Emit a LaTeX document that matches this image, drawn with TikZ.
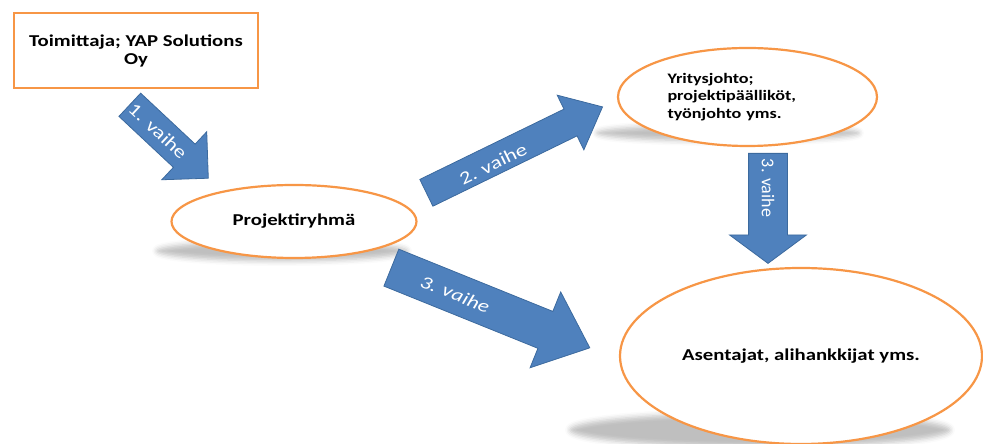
\documentclass[tikz,border=0pt]{standalone}
\usepackage{fontspec}
\setmainfont{Carlito}[FakeStretch=1.25]
\newfontfamily\uprightfont{Carlito}
\usetikzlibrary{shapes.geometric,shapes.arrows,shadows.blur}
\definecolor{shapeorange}{HTML}{F79646}
\definecolor{arrowblue}{HTML}{4F81BD}
\definecolor{arrowline}{HTML}{3C6A9E}

\begin{document}
\begin{tikzpicture}[x=1pt, y=1pt,
  box/.style={draw=shapeorange, line width=2.2pt, fill=white, align=center,
              font=\fontsize{16.6}{18}\selectfont\bfseries},
  oval/.style={box, ellipse, inner sep=0pt},
  shade/.style={ellipse, inner sep=0pt, blur shadow={shadow xshift=0pt, shadow yshift=0pt,
                shadow opacity=25, shadow blur radius=5pt}},
  barrow/.style={single arrow, anchor=tail, draw=arrowline, line width=0.8pt, fill=arrowblue,
                 inner sep=0pt, single arrow head indent=0pt},
  lbl/.style={text=white, inner sep=0pt, font=\fontsize{18}{20}\selectfont}]
\useasboundingbox (0,0) rectangle (983,444);
% shadows below the ovals
\node[shade, minimum width=250, minimum height=20] (sh1) at (282,193) {};
\node[shade, minimum width=262, minimum height=16] (sh2) at (728,311) {};
\node[shade, minimum width=380, minimum height=34] (sh3) at (760,14) {};
% parties
\node[box, minimum width=244, minimum height=75] (sup) at (136,393.5) {Toimittaja; YAP Solutions\\ Oy};
\node[oval, minimum width=245, minimum height=73] (team) at (294,222.5) {Projektiryhmä};
\node[oval, minimum width=259, minimum height=98, text width=160, align=left,
      font=\fontsize{14.5}{17.5}\selectfont\bfseries] (mgmt) at (747.5,347) {Yritysjohto;\\ projektipäälliköt,\\ työnjohto yms.};
\node[oval, minimum width=362, minimum height=176] (fitters) at (801,88) {Asentajat, alihankkijat yms.};
% phases
\node[barrow, rotate=-43.1, minimum height=107.5, inner ysep=15.5, single arrow head extend=17,
      single arrow tip angle=90] (ph1) at (129.5,339.5) {};
\node[barrow, rotate=26, minimum height=196, inner ysep=14.5, single arrow head extend=15.5,
      single arrow tip angle=81] (ph2) at (426,251) {};
\node[barrow, rotate=-90, minimum height=110, inner ysep=19, single arrow head extend=19,
      single arrow tip angle=107] (ph3) at (768,291) {};
\node[barrow, rotate=-22, minimum height=214, inner ysep=19.5, single arrow head extend=21,
      single arrow tip angle=81] (ph4) at (391,176.5) {};
\node[lbl, rotate=-43] (l1) at (158,313) {1. vaihe};
\node[lbl, rotate=26] (l2) at (493,280) {2. vaihe};
\node[lbl, rotate=-90, font=\uprightfont\fontsize{18}{20}\selectfont] (l3) at (768,256) {3. vaihe};
\node[lbl, rotate=-22, font=\fontsize{18}{20}\selectfont\itshape] (l4) at (455,150) {3. vaihe};
\end{tikzpicture}
\end{document}
